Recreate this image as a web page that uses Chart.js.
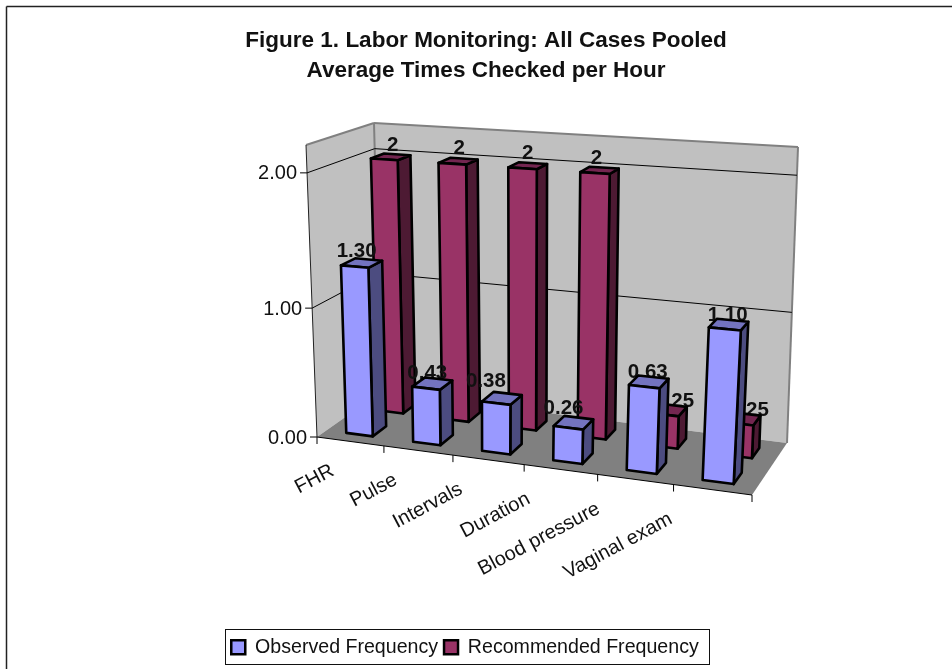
<!DOCTYPE html>
<html lang="en">

<head>
  <meta charset="UTF-8" />
  <title>Labor Monitoring</title>
  <script src="https://cdn.jsdelivr.net/npm/chart.js"></script>
  <style>
    body { margin: 0; background: #fff; }
    canvas { display: block; }
  </style>
</head>

<body>
  <canvas id="laborChart" width="952" height="669"></canvas>
  <script>
    const categories = ["FHR", "Pulse", "Intervals", "Duration", "Blood pressure", "Vaginal exam"];
    const observed = [1.30, 0.43, 0.38, 0.26, 0.63, 1.10];
    const recommended = [2, 2, 2, 2, 0.25, 0.25];
    const observedLabels = ["1.30", "0.43", "0.38", "0.26", "0.63", "1.10"];
    const recommendedLabels = ["2", "2", "2", "2", "0.25", "0.25"];

    // pixel corners of the 3D box: [front/back][left/right], bottom and top
    const box = {
      flb: [317, 437], frb: [752, 495], blb: [381, 392], brb: [787, 443],
      flt: [306, 145], frt: [769, 174], blt: [374, 123], brt: [798, 147]
    };
    const warpX = 1.1;
    const warpY = 1.055;
    // depth slots of the two rows, 0 = front edge of floor, 1 = back wall
    const depths = [[0.15, 0.37], [0.65, 0.85]];
    const faces = [
      { front: "#9999ff", side: "#4c4c80", top: "#7373bf" },
      { front: "#993366", side: "#4d1a33", top: "#732650" }
    ];
    // the original places its data labels a bit unevenly
    const labelNudge = [
      [[-5, -12], [-5, -10], [-16, -17], [-10, -14], [-1, -10], [-1, -9]],
      [[2, -12], [1, -13], [0, -12], [-3, -12], [6, -9], [7, -8]]
    ];
    const labelFont = "bold 20.5px 'Liberation Sans', Arial, sans-serif";
    const tickFont = "20px 'Liberation Sans', Arial, sans-serif";
    const edge = 2.6;

    const warp = (a, k) => a / (a + k * (1 - a));
    const mix = (a, b, t) => [a[0] + (b[0] - a[0]) * t, a[1] + (b[1] - a[1]) * t];

    function project(u, v, w) {
      const t = warp(u, warpX);
      const s = warp(v, warpY);
      const bottom = mix(mix(box.flb, box.frb, t), mix(box.blb, box.brb, t), w);
      const top = mix(mix(box.flt, box.frt, t), mix(box.blt, box.brt, t), w);
      return mix(bottom, top, s);
    }

    function quad(ctx, pts, fill, stroke, lw) {
      ctx.beginPath();
      pts.forEach((p, i) => (i ? ctx.lineTo(p[0], p[1]) : ctx.moveTo(p[0], p[1])));
      ctx.closePath();
      if (fill) { ctx.fillStyle = fill; ctx.fill(); }
      if (stroke) { ctx.strokeStyle = stroke; ctx.lineWidth = lw; ctx.lineJoin = "round"; ctx.stroke(); }
    }

    function line(ctx, a, b, color, lw) {
      ctx.beginPath();
      ctx.moveTo(a[0], a[1]);
      ctx.lineTo(b[0], b[1]);
      ctx.strokeStyle = color;
      ctx.lineWidth = lw;
      ctx.stroke();
    }

    const bars3d = {
      id: "bars3d",
      afterLayout(chart) {
        // title and legend are not centred on the same line in the original
        chart.titleBlock.left += 10;
        chart.titleBlock.right += 10;
        chart.legend.left -= 11;
        chart.legend.right -= 11;
      },
      beforeDraw(chart) {
        const ctx = chart.ctx;
        ctx.save();
        ctx.fillStyle = "#fff";
        ctx.fillRect(0, 0, chart.width, chart.height);
        line(ctx, [6.5, 669], [6.5, 6.5], "#222", 1.5);
        line(ctx, [6.5, 6.5], [952, 6.5], "#222", 1.5);
        ctx.restore();
      },
      beforeDatasetsDraw(chart) {
        const ctx = chart.ctx;
        const x = chart.scales.x;
        const y = chart.scales.y;
        const area = chart.chartArea;
        const uOf = (v) => (v - area.left) / area.width;
        const vOf = (v) => (area.bottom - v) / area.height;
        ctx.save();

        // walls and floor
        quad(ctx, [box.flb, box.blb, box.blt, box.flt], "#c0c0c0");
        quad(ctx, [box.blb, box.brb, box.brt, box.blt], "#c0c0c0");
        quad(ctx, [box.flb, box.frb, box.brb, box.blb], "#808080");
        line(ctx, box.flt, box.blt, "#808080", 2);
        line(ctx, box.blt, box.brt, "#808080", 2);
        line(ctx, box.brt, box.brb, "#808080", 2);
        line(ctx, box.blt, box.blb, "#808080", 2);

        // value axis, gridlines on both walls
        ctx.font = tickFont;
        ctx.textAlign = "right";
        ctx.textBaseline = "middle";
        line(ctx, box.flb, box.flt, "#222", 1);
        y.ticks.forEach((tick) => {
          const v = vOf(y.getPixelForValue(tick.value));
          const a = project(0, v, 0);
          const b = project(0, v, 1);
          const c = project(1, v, 1);
          if (tick.value > 0) {
            line(ctx, a, b, "#000", 1);
            line(ctx, b, c, "#000", 1);
          }
          line(ctx, [a[0] - 7, a[1]], a, "#000", 1);
          ctx.fillStyle = "#111";
          ctx.fillText(tick.value.toFixed(2), a[0] - 10, a[1] + 1);
        });

        // category axis on the front edge of the floor
        line(ctx, box.flb, box.frb, "#000", 1);
        for (let i = 0; i <= categories.length; i++) {
          const p = project(uOf(x.getPixelForValue(i - 0.5)), 0, 0);
          line(ctx, p, [p[0], p[1] + 7], "#000", 1);
        }
        ctx.textBaseline = "alphabetic";
        categories.forEach((name, i) => {
          const p = project(uOf(x.getPixelForValue(i)), 0, 0);
          ctx.save();
          ctx.translate(p[0] - 15 - 4.8 * i, p[1] + 33);
          ctx.rotate(-28 * Math.PI / 180);
          ctx.fillStyle = "#111";
          ctx.fillText(name, 0, 0);
          ctx.restore();
        });
        ctx.restore();
      },
      beforeDatasetDraw(chart, args) {
        const ctx = chart.ctx;
        const area = chart.chartArea;
        const uOf = (v) => (v - area.left) / area.width;
        const vOf = (v) => (area.bottom - v) / area.height;
        const idx = args.index;
        const [w0, w1] = depths[idx];
        const style = faces[idx];
        const texts = idx === 0 ? observedLabels : recommendedLabels;
        ctx.save();
        args.meta.data.forEach((el, i) => {
          const u0 = uOf(el.x - el.width / 2);
          const u1 = uOf(el.x + el.width / 2);
          const vb = vOf(el.base);
          const vt = vOf(el.y);
          const c = project((u0 + u1) / 2, vt, (w0 + w1) / 2);
          ctx.font = labelFont;
          ctx.fillStyle = "#111";
          ctx.textAlign = "center";
          ctx.textBaseline = "middle";
          ctx.fillText(texts[i], c[0] + labelNudge[idx][i][0], c[1] + labelNudge[idx][i][1]);

          const fb0 = project(u0, vb, w0), fb1 = project(u1, vb, w0);
          const ft0 = project(u0, vt, w0), ft1 = project(u1, vt, w0);
          const bb1 = project(u1, vb, w1);
          const bt0 = project(u0, vt, w1), bt1 = project(u1, vt, w1);
          quad(ctx, [fb1, bb1, bt1, ft1], style.side, "#000", edge);
          quad(ctx, [ft0, ft1, bt1, bt0], style.top, "#000", edge);
          quad(ctx, [fb0, fb1, ft1, ft0], style.front, "#000", edge);
        });
        ctx.restore();
        return false;
      },
      afterDraw(chart) {
        const ctx = chart.ctx;
        ctx.save();
        ctx.strokeStyle = "#111";
        ctx.lineWidth = 1;
        ctx.strokeRect(225.5, 629.5, 484, 35);
        ctx.restore();
      }
    };

    new Chart(document.getElementById("laborChart"), {
      type: "bar",
      plugins: [bars3d],
      data: {
        labels: categories,
        datasets: [
          { label: "Observed Frequency", data: observed, backgroundColor: "#9999ff", borderColor: "#000", borderWidth: 2.5 },
          { label: "Recommended Frequency", data: recommended, backgroundColor: "#993366", borderColor: "#000", borderWidth: 2.5 }
        ]
      },
      options: {
        responsive: false,
        animation: false,
        layout: { padding: { top: 16, bottom: 2 } },
        datasets: { bar: { grouped: false, categoryPercentage: 1, barPercentage: 0.4 } },
        scales: {
          x: { display: false },
          y: {
            display: false,
            min: 0,
            max: 2.2,
            ticks: { stepSize: 1 },
            afterBuildTicks: (scale) => { scale.ticks = scale.ticks.filter((t) => t.value <= 2); }
          }
        },
        plugins: {
          tooltip: { enabled: false },
          title: {
            display: true,
            text: ["Figure 1. Labor Monitoring: All Cases Pooled", "Average Times Checked per Hour"],
            color: "#111",
            font: { family: "'Liberation Sans', Arial, sans-serif", size: 22.5, weight: "bold", lineHeight: 1.33 }
          },
          legend: {
            position: "bottom",
            onClick: null,
            labels: {
              color: "#111",
              boxWidth: 14,
              boxHeight: 14,
              padding: 6,
              font: { family: "'Liberation Sans', Arial, sans-serif", size: 19.6 }
            }
          }
        }
      }
    });
  </script>
</body>

</html>
